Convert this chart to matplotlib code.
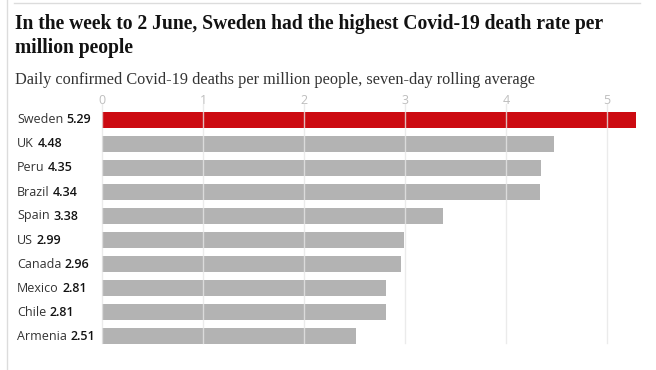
import matplotlib
matplotlib.use("Agg")
import matplotlib.pyplot as plt
from matplotlib.lines import Line2D

# data
countries = ["Sweden", "UK", "Peru", "Brazil", "Spain", "US",
             "Canada", "Mexico", "Chile", "Armenia"]
rates = [5.29, 4.48, 4.35, 4.34, 3.38, 2.99, 2.96, 2.81, 2.81, 2.51]
ticks = [0, 1, 2, 3, 4, 5]

W, H = 656, 370
fig = plt.figure(figsize=(W / 100, H / 100), dpi=100)

def px(x, y):
    # pixel coords (from top-left) -> figure fraction
    return x / W, 1 - y / H

# frame lines
fig.add_artist(Line2D([7 / W, 7 / W], [0, 1], color="#dcdcdc", lw=1))
fig.add_artist(Line2D([14 / W, 640 / W], [1 - 3 / H, 1 - 3 / H], color="#dcdcdc", lw=1))

# headline + standfirst
fig.text(*px(15, 29), "In the week to 2 June, Sweden had the highest Covid-19 death rate per",
         family="Liberation Serif", weight="bold", fontsize=14.1, color="#121212", va="baseline")
fig.text(*px(15, 53), "million people",
         family="Liberation Serif", weight="bold", fontsize=14.1, color="#121212", va="baseline")
fig.text(*px(15, 84), "Daily confirmed Covid-19 deaths per million people, seven-day rolling average",
         family="Liberation Serif", fontsize=11.7, color="#333333", va="baseline")

# axes: zero at x=102px, 101px per unit, rows of 24px starting at y=108
left, right, top, bottom = 102, 640, 108, 348
ax = fig.add_axes([left / W, 1 - bottom / H, (right - left) / W, (bottom - top) / H])
ax.set_xlim(0, (right - left) / 101)
ax.set_ylim(len(countries) - 0.5, -0.5)

ypos = list(range(len(countries)))
colors = ["#cc0a11"] + ["#b3b3b3"] * (len(countries) - 1)
ax.barh(ypos, rates, height=16 / 24, color=colors, zorder=1)

# gridlines drawn over the bars
for t in ticks:
    ax.plot([t, t], [-0.67, len(countries) - 0.7], color="#e6e6e6", lw=1,
            alpha=0.8, zorder=2, clip_on=False)

ax.xaxis.tick_top()
ax.set_xticks(ticks)
ax.set_xticklabels([str(t) for t in ticks], family="Open Sans", fontsize=9, color="#bdbdbd")
ax.tick_params(axis="x", length=0, pad=1)
ax.set_yticks([])
for s in ax.spines.values():
    s.set_visible(False)
ax.patch.set_alpha(0)

# country labels: name regular, value bold
blend = matplotlib.transforms.blended_transform_factory(fig.transFigure, ax.transData)
for i, (c, v) in enumerate(zip(countries, rates)):
    name = ax.text(17 / W, i, c, transform=blend, family="Open Sans", fontsize=9,
                   color="#333333", va="center", ha="left")
    ax.annotate(f"{v:.2f}", xy=(1, 0), xycoords=name, xytext=(2.5, 0),
                textcoords="offset points", family="Open Sans", weight="semibold",
                fontsize=9, color="#121212", va="bottom", ha="left")

fig.savefig("out.png", dpi=100)
